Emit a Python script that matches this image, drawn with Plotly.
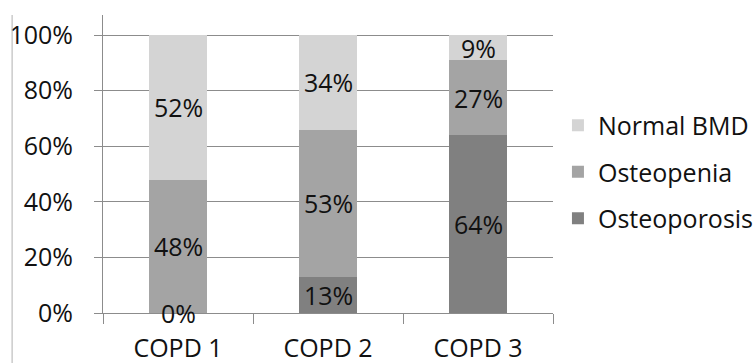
import plotly.graph_objects as go

categories = ["COPD 1", "COPD 2", "COPD 3"]
osteoporosis = [0, 13, 64]
osteopenia = [48, 53, 27]
normal_bmd = [52, 34, 9]
y_ticks = [0, 20, 40, 60, 80, 100]
y_tick_labels = ["0%", "20%", "40%", "60%", "80%", "100%"]

series = [
    ("Osteoporosis", osteoporosis, "#808080", 3),
    ("Osteopenia", osteopenia, "#a4a4a4", 2),
    ("Normal BMD", normal_bmd, "#d4d4d4", 1),
]

FONT = "Open Sans"
TXT = "#111111"
FS = 25
fig = go.Figure()
for name, vals, color, rank in series:
    fig.add_trace(go.Bar(
        name=name, x=categories, y=vals, marker_color=color,
        marker_line_width=0, legendgroup=name, legendrank=rank,
    ))

# data labels centred in each segment
annotations = []
base = [0] * len(categories)
for name, vals, color, rank in series:
    for i, v in enumerate(vals):
        annotations.append(dict(
            x=categories[i], y=base[i] + v / 2, text=f"{v}%", showarrow=False,
            font=dict(family=FONT, size=FS, color=TXT), xref="x", yref="y",
        ))
        base[i] += v

fig.update_layout(
    width=755, height=363,
    margin=dict(l=103, r=202, t=15, b=50, autoexpand=False),
    barmode="stack", bargap=0.61,
    plot_bgcolor="white", paper_bgcolor="white",
    font=dict(family=FONT, size=FS, color=TXT),
    annotations=annotations,
    legend=dict(
        x=1.011, xanchor="left", y=0.473, yanchor="middle",
        traceorder="grouped", tracegroupgap=11,
        font=dict(family=FONT, size=FS, color=TXT),
        bgcolor="rgba(0,0,0,0)",
    ),
    showlegend=True,
    shapes=[dict(type="line", xref="paper", yref="paper", x0=-0.202, x1=-0.202,
                 y0=-0.2, y1=1.0, line=dict(color="#b0b0b0", width=1))],
)
fig.update_yaxes(
    range=[0, 107.2], tickvals=y_ticks, ticktext=y_tick_labels,
    showgrid=True, gridcolor="#8c8c8c", gridwidth=1,
    showline=True, linecolor="#8c8c8c", linewidth=1,
    ticks="outside", ticklen=8, tickcolor="#8c8c8c",
    zeroline=False, ticklabelstandoff=16, automargin=False,
)
fig.update_xaxes(
    showline=True, linecolor="#8c8c8c", linewidth=1,
    ticks="outside", tickson="boundaries", ticklen=10, tickcolor="#8c8c8c",
    showgrid=False, ticklabelstandoff=13, automargin=False,
)
fig.write_html(
    "out.html",
    config={"displayModeBar": False},
    post_script="document.body.style.margin='0px';document.body.style.overflow='hidden';",
)
